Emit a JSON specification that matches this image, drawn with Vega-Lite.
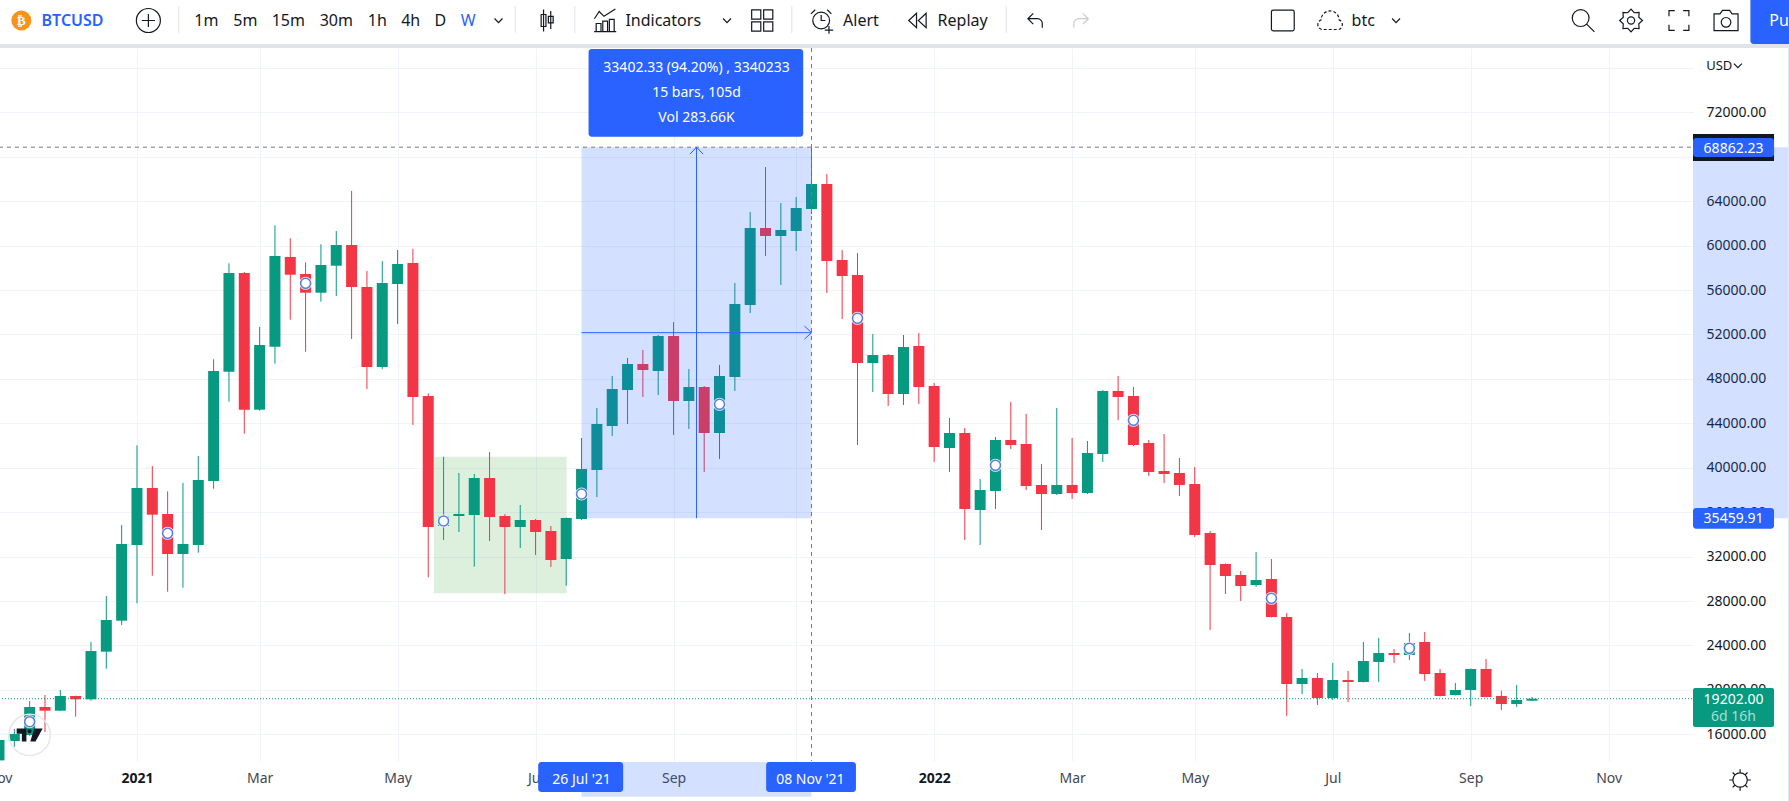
{
"$schema":"https://vega.github.io/schema/vega-lite/v6.json",
"width":1694,"height":713,
"autosize":{"type":"none"},
"padding":{"left":-1,"top":48,"right":96,"bottom":40},
"background":"#ffffff",
"config":{"view":{"stroke":null},"font":"Noto Sans","text":{"font":"Noto Sans"},"axis":{"labelFont":"Noto Sans"}},
"datasets":{
"candles":[
{"date":"2020-11-02","open":13650,"high":15960,"low":13550,"close":15488},
{"date":"2020-11-09","open":15398,"high":16478,"low":14886,"close":16028},
{"date":"2020-11-16","open":15938,"high":18999,"low":15848,"close":18459},
{"date":"2020-11-23","open":18459,"high":19539,"low":16208,"close":18126},
{"date":"2020-11-30","open":18126,"high":19989,"low":18100,"close":19449},
{"date":"2020-12-07","open":19449,"high":19480,"low":17587,"close":19152},
{"date":"2020-12-14","open":19152,"high":24311,"low":19026,"close":23501},
{"date":"2020-12-21","open":23438,"high":28452,"low":21906,"close":26291},
{"date":"2020-12-28","open":26228,"high":34844,"low":25841,"close":33134},
{"date":"2021-01-04","open":33044,"high":42020,"low":27795,"close":38175},
{"date":"2021-01-11","open":38175,"high":40156,"low":30280,"close":35771},
{"date":"2021-01-18","open":35834,"high":37878,"low":28839,"close":32233},
{"date":"2021-01-25","open":32233,"high":38626,"low":29200,"close":33134},
{"date":"2021-02-01","open":33044,"high":41056,"low":32350,"close":38896},
{"date":"2021-02-08","open":38806,"high":49762,"low":38113,"close":48709},
{"date":"2021-02-15","open":48645,"high":58405,"low":45945,"close":57532},
{"date":"2021-02-22","open":57532,"high":57622,"low":43064,"close":45225},
{"date":"2021-03-01","open":45225,"high":52670,"low":45135,"close":51050},
{"date":"2021-03-08","open":50897,"high":61827,"low":49366,"close":59062},
{"date":"2021-03-15","open":58972,"high":60656,"low":53327,"close":57379},
{"date":"2021-03-22","open":57442,"high":58495,"low":50447,"close":55758},
{"date":"2021-03-29","open":55758,"high":60116,"low":54948,"close":58252},
{"date":"2021-04-05","open":58189,"high":61313,"low":55461,"close":60053},
{"date":"2021-04-12","open":60053,"high":64914,"low":51590,"close":56272},
{"date":"2021-04-19","open":56272,"high":57712,"low":47088,"close":49069},
{"date":"2021-04-26","open":49069,"high":58612,"low":48889,"close":56632},
{"date":"2021-05-03","open":56542,"high":59603,"low":52940,"close":58342},
{"date":"2021-05-10","open":58432,"high":59693,"low":43848,"close":46368},
{"date":"2021-05-17","open":46458,"high":46701,"low":30136,"close":34664},
{"date":"2021-05-24","open":34754,"high":40993,"low":33494,"close":35592},
{"date":"2021-05-31","open":35654,"high":39526,"low":34214,"close":35834},
{"date":"2021-06-07","open":35744,"high":39436,"low":31090,"close":39076},
{"date":"2021-06-14","open":39076,"high":41417,"low":33404,"close":35564},
{"date":"2021-06-21","open":35654,"high":35834,"low":28632,"close":34664},
{"date":"2021-06-28","open":34664,"high":36645,"low":32774,"close":35294},
{"date":"2021-07-05","open":35294,"high":35385,"low":32143,"close":34214},
{"date":"2021-07-12","open":34304,"high":34754,"low":31063,"close":31693},
{"date":"2021-07-19","open":31783,"high":35520,"low":29380,"close":35474},
{"date":"2021-07-26","open":35385,"high":42677,"low":35294,"close":39886},
{"date":"2021-08-02","open":39796,"high":45378,"low":37365,"close":43937},
{"date":"2021-08-09","open":43757,"high":48259,"low":42857,"close":47088},
{"date":"2021-08-16","open":46998,"high":49879,"low":43937,"close":49339},
{"date":"2021-08-23","open":49339,"high":50600,"low":46368,"close":48799},
{"date":"2021-08-30","open":48709,"high":51950,"low":46548,"close":51860},
{"date":"2021-09-06","open":51860,"high":53120,"low":42947,"close":46008},
{"date":"2021-09-13","open":46008,"high":48889,"low":43487,"close":47268},
{"date":"2021-09-20","open":47268,"high":47360,"low":39616,"close":43127},
{"date":"2021-09-27","open":43127,"high":49249,"low":40786,"close":48259},
{"date":"2021-10-04","open":48169,"high":56632,"low":46908,"close":54741},
{"date":"2021-10-11","open":54651,"high":63024,"low":53931,"close":61583},
{"date":"2021-10-18","open":61583,"high":67075,"low":59062,"close":60863},
{"date":"2021-10-25","open":60863,"high":63834,"low":56451,"close":61403},
{"date":"2021-11-01","open":61313,"high":64374,"low":59513,"close":63384},
{"date":"2021-11-08","open":63294,"high":68862.23,"low":62844,"close":65545},
{"date":"2021-11-15","open":65545,"high":66445,"low":55731,"close":58612},
{"date":"2021-11-22","open":58702,"high":59603,"low":53390,"close":57262},
{"date":"2021-11-29","open":57352,"high":59332,"low":42047,"close":49429},
{"date":"2021-12-06","open":49429,"high":52040,"low":46818,"close":50149},
{"date":"2021-12-13","open":50149,"high":50240,"low":45558,"close":46638},
{"date":"2021-12-20","open":46638,"high":51950,"low":45648,"close":50870},
{"date":"2021-12-27","open":50960,"high":52130,"low":45738,"close":47268},
{"date":"2022-01-03","open":47358,"high":47628,"low":40516,"close":41867},
{"date":"2022-01-10","open":41777,"high":44477,"low":39616,"close":43127},
{"date":"2022-01-17","open":43127,"high":43577,"low":33494,"close":36285},
{"date":"2022-01-24","open":36195,"high":38986,"low":33044,"close":37995},
{"date":"2022-01-31","open":37905,"high":42767,"low":36285,"close":42497},
{"date":"2022-02-07","open":42497,"high":45918,"low":41687,"close":42047},
{"date":"2022-02-14","open":42137,"high":44837,"low":37995,"close":38355},
{"date":"2022-02-21","open":38445,"high":40336,"low":34394,"close":37635},
{"date":"2022-02-28","open":37635,"high":45378,"low":37545,"close":38445},
{"date":"2022-03-07","open":38445,"high":42677,"low":37185,"close":37725},
{"date":"2022-03-14","open":37725,"high":42407,"low":37635,"close":41326},
{"date":"2022-03-21","open":41236,"high":46998,"low":40516,"close":46908},
{"date":"2022-03-28","open":46908,"high":48259,"low":44297,"close":46368},
{"date":"2022-04-04","open":46458,"high":47268,"low":41957,"close":42047},
{"date":"2022-04-11","open":42227,"high":42497,"low":39256,"close":39616},
{"date":"2022-04-18","open":39706,"high":43037,"low":38625,"close":39436},
{"date":"2022-04-25","open":39526,"high":40876,"low":37455,"close":38445},
{"date":"2022-05-02","open":38535,"high":40066,"low":33764,"close":33944},
{"date":"2022-05-09","open":34124,"high":34304,"low":25391,"close":31243},
{"date":"2022-05-16","open":31333,"high":31380,"low":28632,"close":30253},
{"date":"2022-05-23","open":30343,"high":30703,"low":28002,"close":29353},
{"date":"2022-05-30","open":29443,"high":32413,"low":29263,"close":29893},
{"date":"2022-06-06","open":29983,"high":31783,"low":26520,"close":26562},
{"date":"2022-06-13","open":26562,"high":26922,"low":17649,"close":20530},
{"date":"2022-06-20","open":20530,"high":21880,"low":19629,"close":21070},
{"date":"2022-06-27","open":21070,"high":21520,"low":18639,"close":19269},
{"date":"2022-07-04","open":19269,"high":22420,"low":19089,"close":20890},
{"date":"2022-07-11","open":20890,"high":21700,"low":18909,"close":20710},
{"date":"2022-07-18","open":20710,"high":24311,"low":20665,"close":22600},
{"date":"2022-07-25","open":22510,"high":24671,"low":20710,"close":23321},
{"date":"2022-08-01","open":23321,"high":23681,"low":22420,"close":23141},
{"date":"2022-08-08","open":23141,"high":25121,"low":22690,"close":24221},
{"date":"2022-08-15","open":24311,"high":25211,"low":20800,"close":21430},
{"date":"2022-08-22","open":21520,"high":21880,"low":19405,"close":19449},
{"date":"2022-08-29","open":19539,"high":20620,"low":19495,"close":19989},
{"date":"2022-09-05","open":19989,"high":21925,"low":18549,"close":21880},
{"date":"2022-09-12","open":21880,"high":22780,"low":19315,"close":19359},
{"date":"2022-09-19","open":19449,"high":19927,"low":18189,"close":18729},
{"date":"2022-09-26","open":18729,"high":20440,"low":18459,"close":19089},
{"date":"2022-10-03","open":19026,"high":19359,"low":19000,"close":19202}
],
"greenBox":[{"date":"2021-05-19T14:00:00Z","date2":"2021-07-19T05:00:00Z","price":40994,"price2":28696}],
"measure":[
{"date":"2021-07-26","date2":"2021-11-08","price":68862.23,"price2":35459.91},
{"date":"2022-12-15T12:00:00Z","date2":"2023-01-27T22:00:00Z","price":68862.23,"price2":35459.91},
{"date":"2021-07-26","date2":"2021-11-08","price":13507,"price2":10384}
],
"crossDash":[
{"date":"2020-11-02T00:00:00Z","date2":"2022-12-15T12:00:00Z","price":68862.23,"price2":68862.23},
{"date":"2021-11-08","date2":"2021-11-08","price":77789,"price2":13596}
],
"lastPrice":[{"date":"2020-11-02T00:00:00Z","date2":"2022-12-15T12:00:00Z","price":19202,"price2":19202}],
"measureLines":[
{"date":"2021-09-16T12:00:00Z","date2":"2021-09-16T12:00:00Z","price":68862.23,"price2":35459.91},
{"date":"2021-07-26","date2":"2021-11-08","price":52161,"price2":52161}
],
"arrows":[
{"arrow":"up","seq":1,"date":"2021-09-13T12:00:00Z","price":68232},
{"arrow":"up","seq":2,"date":"2021-09-16T12:00:00Z","price":68862},
{"arrow":"up","seq":3,"date":"2021-09-19T12:00:00Z","price":68232},
{"arrow":"right","seq":1,"date":"2021-11-04T19:00:00Z","price":52746},
{"arrow":"right","seq":2,"date":"2021-11-08","price":52161},
{"arrow":"right","seq":3,"date":"2021-11-04T19:00:00Z","price":51576}
],
"darkTag":[{"date":"2022-12-15T12:00:00Z","date2":"2023-01-21T12:00:00Z","price":70046,"price2":67615}],
"blueTags":[
{"date":"2021-07-29T05:00:00Z","date2":"2021-11-04T05:00:00Z","price":77699,"price2":69803},
{"date":"2022-12-15T12:00:00Z","date2":"2023-01-21T12:00:00Z","price":69686,"price2":67975},
{"date":"2022-12-15T12:00:00Z","date2":"2023-01-21T12:00:00Z","price":36375,"price2":34511},
{"date":"2021-07-06T05:00:00Z","date2":"2021-08-14T00:00:00Z","price":13507,"price2":10806},
{"date":"2021-10-18T07:00:00Z","date2":"2021-11-28T07:00:00Z","price":13507,"price2":10806},
{"date":"2023-01-10T17:00:00Z","date2":"2023-01-30T00:00:00Z","price":82500,"price2":78149}
],
"greenTag":[{"date":"2022-12-15T12:00:00Z","date2":"2023-01-21T12:00:00Z","price":20168,"price2":16658}],
"whiteText":[
{"label":"68862.23","date":"2023-01-03","price":68727},
{"label":"35459.91","date":"2023-01-03","price":35370},
{"label":"19202.00","date":"2023-01-03","price":19116},
{"label":"26 Jul '21","date":"2021-07-26","price":11887},
{"label":"08 Nov '21","date":"2021-11-07T12:00:00Z","price":11887}
],
"tipText":[
{"label":"33402.33 (94.20%) , 3340233","date":"2021-09-16T12:00:00Z","price":75961},
{"label":"15 bars, 105d","date":"2021-09-16T12:00:00Z","price":73711},
{"label":"Vol 283.66K","date":"2021-09-16T12:00:00Z","price":71442}
],
"countdown":[{"label":"6d 16h","date":"2023-01-03","price":17531}],
"rings":[
{"date":"2020-11-16","price":17135},
{"date":"2021-01-18","price":34097},
{"date":"2021-03-22","price":56605},
{"date":"2021-05-24","price":35204},
{"date":"2021-07-26","price":37635},
{"date":"2021-09-27","price":45710},
{"date":"2021-11-29","price":53453},
{"date":"2022-01-31","price":40219},
{"date":"2022-04-04","price":44270},
{"date":"2022-06-06","price":28246},
{"date":"2022-08-08","price":23744}
],
"logoSpot":[{"date":"2020-11-16","price":15940}],
"chromeBands":[
{"date":"2020-11-02T00:00:00Z","date2":"2023-01-28T07:00:00Z","price":78149,"price2":77789},
{"date":"2023-01-27T22:00:00Z","date2":"2023-01-28T07:00:00Z","price":77789,"price2":10000}
],
"separators":[
{"date":"2021-01-23T02:00:00Z","date2":"2021-01-23T02:00:00Z","price":81570,"price2":79140},
{"date":"2021-06-25T17:00:00Z","date2":"2021-06-25T17:00:00Z","price":81570,"price2":79140},
{"date":"2021-07-22T22:00:00Z","date2":"2021-07-22T22:00:00Z","price":81570,"price2":79140},
{"date":"2021-10-30","date2":"2021-10-30","price":81570,"price2":79140},
{"date":"2022-02-04T22:00:00Z","date2":"2022-02-04T22:00:00Z","price":81570,"price2":79140}
],
"toolbarText":[
{"label":"1m","date":"2021-02-04T17:00:00Z","price":80264},
{"label":"5m","date":"2021-02-22T12:00:00Z","price":80264},
{"label":"15m","date":"2021-03-14T02:00:00Z","price":80264},
{"label":"30m","date":"2021-04-05","price":80264},
{"label":"1h","date":"2021-04-23T17:00:00Z","price":80264},
{"label":"4h","date":"2021-05-09","price":80264},
{"label":"D","date":"2021-05-22T12:00:00Z","price":80264},
{"label":"W","date":"2021-06-04T07:00:00Z","price":80264},
{"label":"Indicators","date":"2021-09-01T07:00:00Z","price":80264},
{"label":"Alert","date":"2021-11-30T14:00:00Z","price":80264},
{"label":"Replay","date":"2022-01-16","price":80264},
{"label":"btc","date":"2022-07-17T22:00:00Z","price":80264}
],
"symbolText":[{"label":"BTCUSD","date":"2020-12-05T14:00:00Z","price":80264}],
"publishText":[{"label":"Pu","date":"2023-01-23T19:00:00Z","price":80264}],
"currencyText":[{"label":"USD","date":"2022-12-27T12:00:00Z","price":76195}],
"coin":[{"label":"₿","date":"2020-11-12T05:00:00Z","price":80264}],
"icons":[
{"icon":"plus","date":"2021-01-09T05:00:00Z","price":80264},
{"icon":"chevron","date":"2021-06-18T02:00:00Z","price":80264},
{"icon":"candles","date":"2021-07-10T07:00:00Z","price":80264},
{"icon":"indicators","date":"2021-08-05T19:00:00Z","price":80264},
{"icon":"chevron","date":"2021-09-30T10:00:00Z","price":80264},
{"icon":"grid","date":"2021-10-16T12:00:00Z","price":80264},
{"icon":"alarm","date":"2021-11-12T10:00:00Z","price":80264},
{"icon":"replay","date":"2021-12-26T12:00:00Z","price":80264},
{"icon":"undo","date":"2022-02-18T02:00:00Z","price":80264},
{"icon":"square","date":"2022-06-11T05:00:00Z","price":80264},
{"icon":"chevron","date":"2022-08-01T22:00:00Z","price":80264},
{"icon":"search","date":"2022-10-26T07:00:00Z","price":80264},
{"icon":"gear","date":"2022-11-17T05:00:00Z","price":80264},
{"icon":"fullscreen","date":"2022-12-09T02:00:00Z","price":80264},
{"icon":"camera","date":"2022-12-30T14:00:00Z","price":80264},
{"icon":"chevron","date":"2023-01-05","price":76195},
{"icon":"sun","date":"2023-01-06","price":11887}
],
"redo":[{"date":"2022-03-11T02:00:00Z","price":80264}],
"cloud":[{"date":"2022-07-02T19:00:00Z","price":80264}]
},
"encoding":{
"x":{"field":"date","type":"temporal","title":null,
 "scale":{"type":"utc","domain":["2020-11-02T00:00:00Z","2022-12-15T12:00:00Z"],"nice":false,"padding":0},
 "axis":{"orient":"bottom","domain":false,"ticks":false,"grid":true,"gridColor":"#f0f3fa","gridWidth":1,
  "labelOverlap":false,"labelBound":false,"labelFlush":false,"labelFontSize":14,"labelPadding":10,"labelAngle":0,
  "labelColor":{"condition":{"test":"utcmonth(datum.value)===0","value":"#131722"},"value":"#434651"},
  "labelFontWeight":{"condition":{"test":"utcmonth(datum.value)===0","value":"bold"},"value":"normal"},
  "labelExpr":"utcmonth(datum.value)===0 ? utcFormat(datum.value,'%Y') : utcFormat(datum.value,'%b')",
  "values":["2020-11-02T00:00:00Z","2021-01-04T00:00:00Z","2021-03-01T00:00:00Z","2021-05-03T00:00:00Z","2021-07-05T00:00:00Z","2021-09-06T00:00:00Z","2021-11-01T00:00:00Z","2022-01-03T00:00:00Z","2022-03-07T00:00:00Z","2022-05-02T00:00:00Z","2022-07-04T00:00:00Z","2022-09-05T00:00:00Z","2022-11-07T00:00:00Z"]}},
"y":{"field":"price","type":"quantitative","title":null,
 "scale":{"domain":[13596,77789],"zero":false,"nice":false},
 "axis":{"orient":"right","domain":false,"ticks":false,"grid":true,"gridColor":"#f0f3fa","gridWidth":1,
  "labelOverlap":false,"labelBound":false,"labelFlush":false,"labelFontSize":14,"labelPadding":13,"labelColor":"#131722",
  "labelExpr":"datum.value===76000 ? '' : format(datum.value,'.2f')",
  "values":[16000,20000,24000,28000,32000,36000,40000,44000,48000,52000,56000,60000,64000,68000,72000,76000]}}
},
"layer":[
{"data":{"name":"greenBox"},"mark":{"type":"rect","color":"#4caf50","opacity":0.19},"encoding":{"x2":{"field":"date2"},"y2":{"field":"price2"}}},
{"data":{"name":"candles"},"mark":{"type":"rule","strokeWidth":1},
 "encoding":{"y":{"field":"high","type":"quantitative","title":null,"axis":{"orient":"right"}},"y2":{"field":"low"},
  "color":{"condition":{"test":"datum.open < datum.close","value":"#089981"},"value":"#f23645"}}},
{"data":{"name":"candles"},"mark":{"type":"bar","size":11},
 "encoding":{"y":{"field":"open","type":"quantitative","title":null,"axis":{"orient":"right"}},"y2":{"field":"close"},
  "color":{"condition":{"test":"datum.open < datum.close","value":"#089981"},"value":"#f23645"}}},
{"data":{"name":"measure"},"mark":{"type":"rect","color":"#2962ff","opacity":0.2},"encoding":{"x2":{"field":"date2"},"y2":{"field":"price2"}}},
{"data":{"name":"crossDash"},"mark":{"type":"rule","color":"#787b86","strokeWidth":1,"strokeDash":[4,4]},"encoding":{"x2":{"field":"date2"},"y2":{"field":"price2"}}},
{"data":{"name":"lastPrice"},"mark":{"type":"rule","color":"#089981","strokeWidth":1,"strokeDash":[1,2]},"encoding":{"x2":{"field":"date2"},"y2":{"field":"price2"}}},
{"data":{"name":"measureLines"},"mark":{"type":"rule","color":"#2962ff","strokeWidth":1},"encoding":{"x2":{"field":"date2"},"y2":{"field":"price2"}}},
{"data":{"name":"arrows"},"mark":{"type":"line","color":"#2962ff","strokeWidth":1},"encoding":{"detail":{"field":"arrow"},"order":{"field":"seq"}}},
{"data":{"name":"chromeBands"},"mark":{"type":"rect","color":"#e0e3eb"},"encoding":{"x2":{"field":"date2"},"y2":{"field":"price2"}}},
{"data":{"name":"darkTag"},"mark":{"type":"rect","color":"#131722"},"encoding":{"x2":{"field":"date2"},"y2":{"field":"price2"}}},
{"data":{"name":"blueTags"},"mark":{"type":"rect","color":"#2962ff","cornerRadius":3},"encoding":{"x2":{"field":"date2"},"y2":{"field":"price2"}}},
{"data":{"name":"greenTag"},"mark":{"type":"rect","color":"#089981","cornerRadius":2},"encoding":{"x2":{"field":"date2"},"y2":{"field":"price2"}}},
{"data":{"name":"whiteText"},"mark":{"type":"text","color":"#ffffff","fontSize":14,"align":"center","baseline":"middle"},"encoding":{"text":{"field":"label"}}},
{"data":{"name":"tipText"},"mark":{"type":"text","color":"#ffffff","fontSize":14,"align":"center","baseline":"middle"},"encoding":{"text":{"field":"label"}}},
{"data":{"name":"countdown"},"mark":{"type":"text","color":"#a6dfd1","fontSize":14,"align":"center","baseline":"middle"},"encoding":{"text":{"field":"label"}}},
{"data":{"name":"rings"},"mark":{"type":"point","filled":true,"shape":"circle","color":"#ffffff","size":170,"opacity":0.9}},
{"data":{"name":"rings"},"mark":{"type":"point","shape":"circle","fill":"#ffffff","stroke":"#5b7fe0","strokeWidth":1.6,"size":100,"opacity":1}},
{"data":{"name":"logoSpot"},"mark":{"type":"point","shape":"circle","fill":null,"stroke":"#e6e7ea","strokeWidth":1.5,"size":1700,"opacity":1}},
{"data":{"name":"logoSpot"},"mark":{"type":"point","filled":true,"shape":"M-1,-.5H-.25V.5H-.6V-.1H-1ZM.15,-.3A.16,.16,0,1,1,-.17,-.3A.16,.16,0,1,1,.15,-.3ZM.35,-.5H1L.45,.5H.05Z","color":"#131722","size":676,"opacity":1}},
{"data":{"name":"separators"},"mark":{"type":"rule","color":"#e0e3eb","strokeWidth":1},"encoding":{"x2":{"field":"date2"},"y2":{"field":"price2"}}},
{"data":{"name":"toolbarText"},"mark":{"type":"text","fontSize":16,"align":"center","baseline":"middle"},
 "encoding":{"text":{"field":"label"},"color":{"condition":{"test":"datum.label==='W'","value":"#2962ff"},"value":"#131722"}}},
{"data":{"name":"symbolText"},"mark":{"type":"text","fontSize":16,"fontWeight":600,"color":"#2962ff","align":"center","baseline":"middle"},"encoding":{"text":{"field":"label"}}},
{"data":{"name":"publishText"},"mark":{"type":"text","fontSize":16,"color":"#ffffff","align":"center","baseline":"middle"},"encoding":{"text":{"field":"label"}}},
{"data":{"name":"currencyText"},"mark":{"type":"text","fontSize":13,"color":"#131722","align":"center","baseline":"middle"},"encoding":{"text":{"field":"label"}}},
{"data":{"name":"coin"},"mark":{"type":"point","filled":true,"shape":"circle","color":"#f7931a","size":400,"opacity":1}},
{"data":{"name":"coin"},"mark":{"type":"text","font":"DejaVu Sans","fontSize":13,"fontWeight":"bold","color":"#ffffff","align":"center","baseline":"middle"},"encoding":{"text":{"field":"label"}}},
{"data":{"name":"icons"},"mark":{"type":"point","fill":null,"stroke":"#131722","strokeWidth":1.2,"size":576,"opacity":1},
 "encoding":{"shape":{"field":"icon","type":"nominal","legend":null,
  "scale":{"domain":["plus","chevron","candles","indicators","grid","alarm","replay","undo","square","search","gear","fullscreen","camera","sun"],
  "range":[
  "M0,-1A1,1,0,1,1,0,1A1,1,0,1,1,0,-1ZM0,-.55V.55M-.55,0H.55",
  "M-.33,-.17L0,.17L.33,-.17",
  "M-.3,-.92V.92M-.5,-.5H-.1V.5H-.5ZM.3,-.8V.7M.1,-.35H.5V.2H.1Z",
  "M-.9,-.15L-.5,-.75L-.1,-.35L.85,-.95M-.92,.92H.92M-.75,.9V.25H-.35V.9M-.2,.9V.05H.2V.9M.35,.9V-.1H.75V.9",
  "M-.88,-.88H-.12V-.12H-.88ZM.12,-.88H.88V-.12H.12ZM-.88,.12H-.12V.88H-.88ZM.12,.12H.88V.88H.12Z",
  "M.7,0A.7,.7,0,1,1,-.7,0A.7,.7,0,1,1,.7,0ZM0,-.45V0H.35M-.85,-.55L-.5,-.9M.85,-.55L.5,-.9M.3,.8H1M.65,.45V1.1",
  "M-.1,-.6L-.75,0L-.1,.6ZM.7,-.6L.05,0L.7,.6Z",
  "M-.15,-.6L-.6,-.15L-.15,.3M-.6,-.15H.2A.4,.4,0,0,1,.6,.25V.6",
  "M-.8,-.86H.8A.15,.15,0,0,1,.95,-.71V.71A.15,.15,0,0,1,.8,.86H-.8A.15,.15,0,0,1,-.95,.71V-.71A.15,.15,0,0,1,-.8,-.86Z",
  "M.5,-.2A.7,.7,0,1,1,-.9,-.2A.7,.7,0,1,1,.5,-.2ZM.3,.3L.95,.95",
  "M0,-.95L.268,-.647L.672,-.672L.647,-.268L.95,0L.647,.268L.672,.672L.268,.647L0,.95L-.268,.647L-.672,.672L-.647,.268L-.95,0L-.647,-.268L-.672,-.672L-.268,-.647ZM.3,0A.3,.3,0,1,1,-.3,0A.3,.3,0,1,1,.3,0Z",
  "M-.83,-.35V-.83H-.35M.35,-.83H.83V-.35M.83,.35V.83H.35M-.35,.83H-.83V.35",
  "M-1,-.55H-.5L-.3,-.85H.3L.5,-.55H1V.85H-1ZM.4,.15A.4,.4,0,1,1,-.4,.15A.4,.4,0,1,1,.4,.15Z",
  "M.6,0A.6,.6,0,1,1,-.6,0A.6,.6,0,1,1,.6,0ZM0,-.6V-.9M0,.6V.9M-.6,0H-.9M.6,0H.9M.42,-.42L.62,-.62M-.42,-.42L-.62,-.62M.42,.42L.62,.62M-.42,.42L-.62,.62"
  ]}}}},
{"data":{"name":"redo"},"mark":{"type":"point","fill":null,"stroke":"#c9cbd3","strokeWidth":1.2,"size":576,"opacity":1,"shape":"M.15,-.6L.6,-.15L.15,.3M.6,-.15H-.2A.4,.4,0,0,0,-.6,.25V.6"}},
{"data":{"name":"cloud"},"mark":{"type":"point","fill":null,"stroke":"#131722","strokeWidth":1.2,"strokeDash":[3,2],"size":576,"opacity":1,"shape":"M-.7,.75A.42,.42,0,0,1,-.75,-.05A.75,.75,0,0,1,.75,-.05A.42,.42,0,0,1,.7,.75Z"}}
]
}
